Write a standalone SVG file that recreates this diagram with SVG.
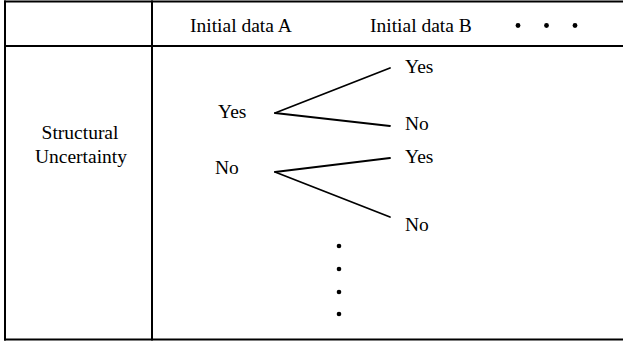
<svg xmlns="http://www.w3.org/2000/svg" width="623" height="342" viewBox="0 0 623 342">
  <style>
    .rule { stroke: #000; stroke-width: 2; fill: none; }
    .branch { stroke: #000; stroke-width: 1.8; fill: none; stroke-linecap: round; }
    .lbl { font-family: "Liberation Serif", "Times New Roman", serif; font-size: 19.5px; fill: #000; }
    .dot { fill: #000; }
  </style>
  <rect width="623" height="342" fill="#fff"/>

  <!-- table frame -->
  <g id="table">
    <line class="rule" x1="4" y1="1.5" x2="623" y2="1.5"/>
    <line class="rule" x1="4" y1="46" x2="623" y2="46"/>
    <line class="rule" x1="4" y1="339.5" x2="623" y2="339.5"/>
    <line class="rule" x1="5" y1="0.5" x2="5" y2="340.5"/>
    <line class="rule" x1="152" y1="0.5" x2="152" y2="340.5"/>
  </g>

  <!-- column headers -->
  <g id="header-a"><text class="lbl" x="190" y="31.5">Initial data A</text></g>
  <g id="header-b"><text class="lbl" x="370" y="31.5">Initial data B</text></g>
  <g id="header-more">
    <circle class="dot" cx="518" cy="25.5" r="2.4"/>
    <circle class="dot" cx="546.5" cy="25.5" r="2.4"/>
    <circle class="dot" cx="575" cy="25.5" r="2.4"/>
  </g>

  <!-- row header -->
  <g id="row-label">
    <text class="lbl" x="80" y="139" text-anchor="middle">Structural</text>
    <text class="lbl" x="81" y="163" text-anchor="middle">Uncertainty</text>
  </g>

  <!-- decision tree nodes -->
  <g id="a-yes"><text class="lbl" x="218" y="118">Yes</text></g>
  <g id="a-no"><text class="lbl" x="215" y="174">No</text></g>
  <g id="b-yes-yes"><text class="lbl" x="405" y="73">Yes</text></g>
  <g id="b-yes-no"><text class="lbl" x="405" y="130">No</text></g>
  <g id="b-no-yes"><text class="lbl" x="405" y="163">Yes</text></g>
  <g id="b-no-no"><text class="lbl" x="405" y="231">No</text></g>

  <g id="connectors">
    <line class="branch" x1="275" y1="113" x2="390" y2="68"/>
    <line class="branch" x1="275" y1="113" x2="390" y2="126"/>
    <line class="branch" x1="275" y1="172" x2="390" y2="158"/>
    <line class="branch" x1="275" y1="172" x2="390" y2="217"/>
  </g>

  <!-- more rows -->
  <g id="rows-more">
    <circle class="dot" cx="339" cy="246" r="2.3"/>
    <circle class="dot" cx="339" cy="269" r="2.3"/>
    <circle class="dot" cx="339" cy="292" r="2.3"/>
    <circle class="dot" cx="339" cy="314" r="2.3"/>
  </g>
</svg>
